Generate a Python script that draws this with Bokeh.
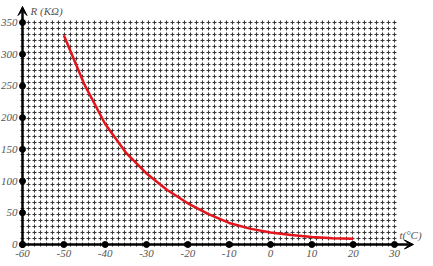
import numpy as np
from bokeh.plotting import figure
from bokeh.models import Range1d, Arrow, VeeHead
from bokeh.core.properties import value
from bokeh.embed import file_html
from bokeh.resources import INLINE

# data
temps = [-50, -45, -40, -35, -30, -25, -20, -15, -10, -5, 0, 5, 10, 15, 20]
resist = [330, 252, 190, 145, 112, 86, 65, 48, 34, 25, 19, 15, 12, 10, 9]
x_ticks = [-60, -50, -40, -30, -20, -10, 0, 10, 20, 30]
y_ticks = [0, 50, 100, 150, 200, 250, 300, 350]
x_label = "t(°C)"
y_label = "R (KΩ)"

XMIN, XMAX = -60, 30
YMIN, YMAX = 0, 350

W, H = 433, 266
CELL = 6            # graph-paper square, px
NX, NY = 62, 37     # squares across / up
PPX = NX * CELL / (XMAX - XMIN)   # px per data unit
PPY = NY * CELL / (YMAX - YMIN)
LEFT, BOTTOM = 22, 22
XR = (XMIN - LEFT / PPX, XMIN + (W - LEFT) / PPX)
YR = (YMIN - BOTTOM / PPY, YMIN + (H - BOTTOM) / PPY)

p = figure(width=W, height=H, output_backend="svg", toolbar_location=None,
           x_range=Range1d(*XR), y_range=Range1d(*YR),
           min_border=0, outline_line_color=None)
p.axis.visible = False
p.xgrid.visible = False
p.ygrid.visible = False
p.background_fill_color = "white"

# graph-paper grid, dashes centred on the crossings
gx = np.linspace(XMIN, XMAX, NX + 1)
gy = np.linspace(YMIN, YMAX, NY + 1)
sx = 2 / PPX
sy = 2 / PPY
p.segment(x0=gx, y0=[YMIN - sy]*len(gx), x1=gx, y1=[YMAX + sy]*len(gx),
          line_color="#383838", line_width=1.1, line_dash="4 2")
p.segment(x0=[XMIN - sx]*len(gy), y0=gy, x1=[XMAX + sx]*len(gy), y1=gy,
          line_color="#383838", line_width=1.1, line_dash="4 2")

# curve
p.line(temps, resist, line_color="#e3141b", line_width=2.5)

# axes with arrows
p.add_layout(Arrow(end=VeeHead(size=9, fill_color="black", line_color="black"),
                   x_start=XMIN, y_start=0, x_end=XMAX + 19 / PPX, y_end=0,
                   line_color="black", line_width=2.5))
p.add_layout(Arrow(end=VeeHead(size=9, fill_color="black", line_color="black"),
                   x_start=XMIN, y_start=0, x_end=XMIN, y_end=YMAX + 16 / PPY,
                   line_color="black", line_width=2.5))

# tick dots
p.scatter(x_ticks, [0]*len(x_ticks), size=6, color="black")
p.scatter([XMIN]*len(y_ticks), y_ticks, size=6, color="black")

font = value("Liberation Serif")
p.text(x_ticks, [0]*len(x_ticks), text=[str(t) for t in x_ticks],
       text_font=font, text_font_style="italic", text_font_size="11px",
       text_color="#555555", text_align="center", text_baseline="top", y_offset=5)
p.text([XMIN]*len(y_ticks), y_ticks, text=[str(t) for t in y_ticks],
       text_font=font, text_font_style="italic", text_font_size="11px",
       text_color="#555555", text_align="right", text_baseline="middle", x_offset=-5)
p.text([XMIN], [YMAX], text=[y_label], text_font=font, text_font_style="italic",
       text_font_size="11px", text_color="#555555", text_align="left",
       text_baseline="bottom", x_offset=8, y_offset=-6)
p.text([XMAX], [0], text=[x_label], text_font=font, text_font_style="italic",
       text_font_size="11px", text_color="#555555", text_align="left",
       text_baseline="bottom", x_offset=5, y_offset=-4)

open("out.html", "w").write(file_html(p, INLINE))
